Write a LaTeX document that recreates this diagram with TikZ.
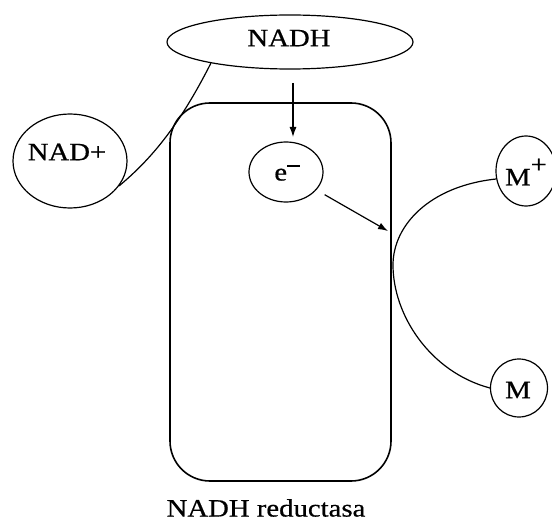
\documentclass[tikz,border=0pt]{standalone}
\usepackage{fontspec}
\setmainfont{Liberation Serif}[FakeStretch=1.15,FakeBold=0.6]
\usetikzlibrary{shapes.geometric,arrows.meta}
\begin{document}
\begin{tikzpicture}[x=1pt,y=-1pt,
  blob/.style={draw,ellipse,line width=1.2pt,inner sep=0pt},
  lbl/.style={font=\fontsize{25}{28}\selectfont,inner sep=0pt},
  conn/.style={line width=1.2pt},
  arr/.style={line width=1.2pt,-{Latex[length=10pt,width=7pt]}}]
\useasboundingbox (0,0) rectangle (552,524);
\draw[line width=1.6pt,rounded corners=40pt] (170,103) rectangle (391,481);
\node[blob,minimum width=246pt,minimum height=54pt] (nadh) at (290,42) {};
\node[lbl] (nadhT) at (289,38) {NADH};
\node[blob,minimum width=114pt,minimum height=94pt] (nad) at (70,161) {};
\node[lbl] (nadT) at (67,152) {NAD+};
\node[blob,minimum width=74pt,minimum height=60pt] (e) at (286,172) {};
\node[lbl] (eT) at (287,173) {e\raisebox{0.55em}{\rule{0.5em}{1.5pt}}};
\node[blob,minimum width=60pt,minimum height=70pt] (mp) at (526,171) {};
\node[lbl] (mpT) at (526,172) {M\raisebox{0.5em}{+}};
\node[blob,minimum width=57pt,minimum height=58pt] (m) at (519,388) {};
\node[lbl] (mT) at (518,390) {M};
\node[lbl] (title) at (266,508) {NADH reductasa};
\coordinate (hit) at (388,231);
\draw[conn] (nad.-27) .. controls (150,160) and (178,128) .. (nadh.195);
\draw[arr] (293,83) -- (293,137);
\draw[arr] (e.-30) ++(8,5) -- (hit);
\draw[conn] (mp.195) .. controls (430,186) and (393,225) .. (393,265)
  .. controls (393,315) and (430,372) .. (m.west);
\end{tikzpicture}
\end{document}
